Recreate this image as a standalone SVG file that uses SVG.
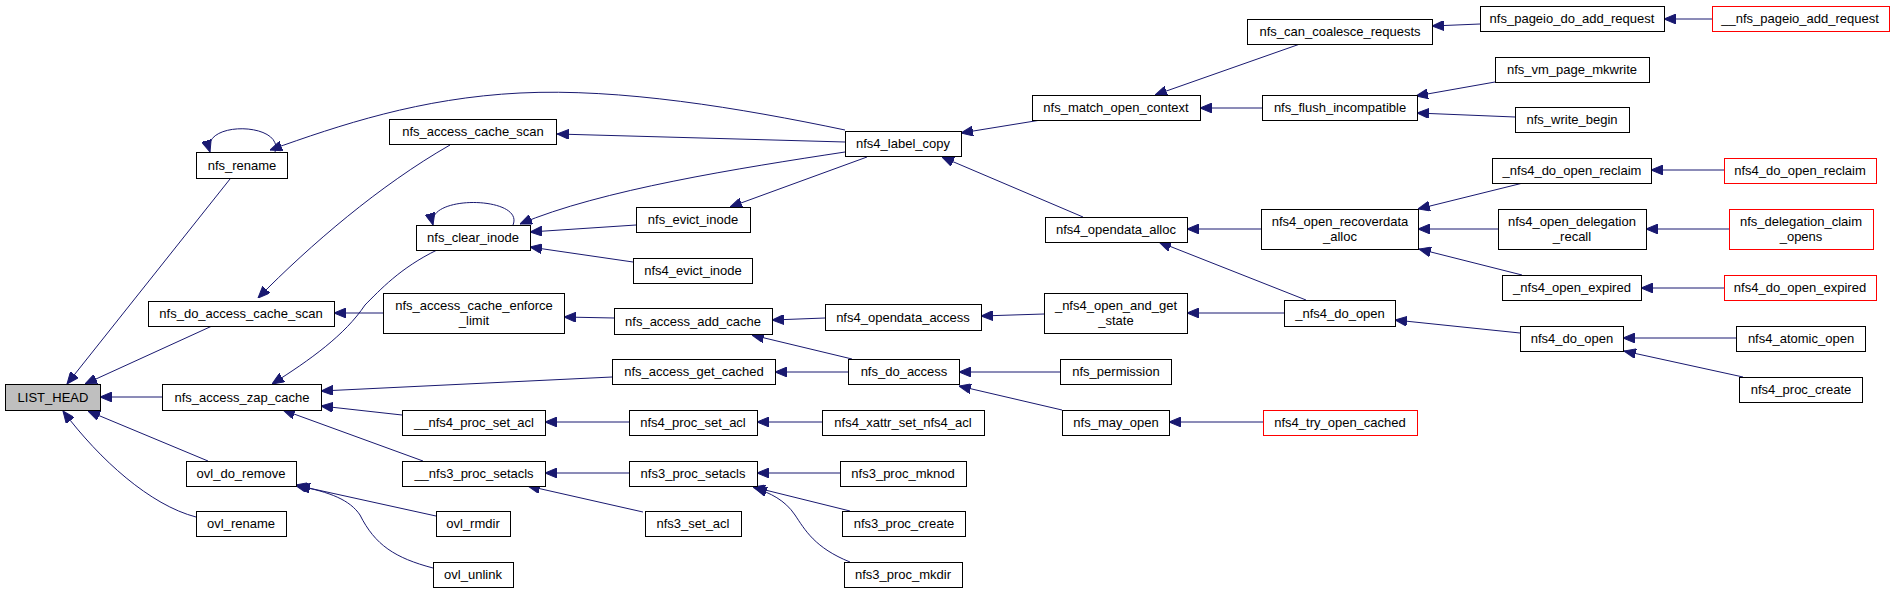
<svg xmlns="http://www.w3.org/2000/svg" width="1895" height="593" viewBox="0 0 1895 593">
<style>
.n rect{fill:#fff;stroke:#000;stroke-width:1}
.n.root rect{fill:#bfbfbf}
.n.red rect{stroke:#ff0000}
.n text{font-family:"Liberation Sans",Arial,sans-serif;font-size:13px;fill:#000;text-anchor:middle}
#edges path{fill:none;stroke:#191970;stroke-width:1;marker-end:url(#ah)}
</style>
<defs>
<marker id="ah" viewBox="0 0 12 10" refX="12" refY="5" markerWidth="12" markerHeight="10" markerUnits="userSpaceOnUse" orient="auto">
<path d="M0,0 L12,5 L0,10 z" fill="#191970" stroke="#191970" stroke-width="1"/>
</marker>
</defs>
<rect width="1895" height="593" fill="#fff"/>
<g id="edges">
<path d="M230,179 L67,384"/>
<path d="M212,326 L85,384"/>
<path d="M162,397 L100,397"/>
<path d="M208,461 L88,411"/>
<path d="M196,517 C150,505 100,460 63,411"/>
<path d="M275,152 C285,122 200,120 210,152"/>
<path d="M845,130 C740,108 620,88 520,93 C420,98 340,125 270,150"/>
<path d="M845,142 L557,134"/>
<path d="M845,152 C740,168 600,190 520,224"/>
<path d="M867,157 L730,207"/>
<path d="M513,225 C525,196 425,194 433,225"/>
<path d="M636,225 L530,232"/>
<path d="M633,262 L530,247"/>
<path d="M450,145 C380,185 310,245 258,298"/>
<path d="M437,250 C400,268 380,290 365,305 C345,335 310,360 272,384"/>
<path d="M383,313 L334,313"/>
<path d="M614,318 L564,317"/>
<path d="M612,377 L321,391"/>
<path d="M402,415 L321,406"/>
<path d="M423,461 L283,410"/>
<path d="M629,422 L545,422"/>
<path d="M629,473 L545,473"/>
<path d="M643,512 L528,486"/>
<path d="M436,516 L295,485"/>
<path d="M433,568 C395,558 375,545 360,515 C350,500 330,492 298,486"/>
<path d="M825,318 L772,320"/>
<path d="M852,359 L752,335"/>
<path d="M848,372 L775,372"/>
<path d="M822,422 L757,422"/>
<path d="M840,473 L757,473"/>
<path d="M850,511 L753,487"/>
<path d="M850,562 C815,548 805,530 795,515 C785,500 770,493 755,488"/>
<path d="M1041,120 L961,133"/>
<path d="M1083,217 L942,157"/>
<path d="M1300,44 L1155,95"/>
<path d="M1262,108 L1200,108"/>
<path d="M1480,24 L1432,26"/>
<path d="M1712,19 L1664,19"/>
<path d="M1495,82 L1416,96"/>
<path d="M1515,117 L1417,113"/>
<path d="M1261,229 L1187,229"/>
<path d="M1306,300 L1159,242"/>
<path d="M1044,314 L981,316"/>
<path d="M1284,313 L1187,313"/>
<path d="M1060,372 L959,372"/>
<path d="M1062,410 L959,386"/>
<path d="M1263,422 L1169,422"/>
<path d="M1523,183 L1418,209"/>
<path d="M1498,229 L1418,229"/>
<path d="M1522,275 L1419,249"/>
<path d="M1724,170 L1651,170"/>
<path d="M1729,229 L1646,229"/>
<path d="M1724,288 L1641,288"/>
<path d="M1520,333 L1395,320"/>
<path d="M1736,338 L1623,338"/>
<path d="M1743,377 L1624,351"/>
</g>
<g id="LIST_HEAD" class="n root"><rect x="5.5" y="384.5" width="95" height="26"/><text x="53" y="402">LIST_HEAD</text></g>
<g id="nfs_rename" class="n"><rect x="196.5" y="152.5" width="91" height="26"/><text x="242" y="170">nfs_rename</text></g>
<g id="nfs_do_access_cache_scan" class="n"><rect x="148.5" y="301.5" width="186" height="25"/><text x="241" y="318">nfs_do_access_cache_scan</text></g>
<g id="nfs_access_zap_cache" class="n"><rect x="162.5" y="384.5" width="159" height="26"/><text x="242" y="402">nfs_access_zap_cache</text></g>
<g id="ovl_do_remove" class="n"><rect x="186.5" y="461.5" width="110" height="25"/><text x="241" y="478">ovl_do_remove</text></g>
<g id="ovl_rename" class="n"><rect x="196.5" y="511.5" width="90" height="25"/><text x="241" y="528">ovl_rename</text></g>
<g id="nfs_access_cache_scan" class="n"><rect x="389.5" y="119.5" width="167" height="25"/><text x="473" y="136">nfs_access_cache_scan</text></g>
<g id="nfs_clear_inode" class="n"><rect x="416.5" y="225.5" width="114" height="25"/><text x="473" y="242">nfs_clear_inode</text></g>
<g id="nfs_access_cache_enforce_limit" class="n"><rect x="383.5" y="293.5" width="181" height="40"/><text x="474" y="310">nfs_access_cache_enforce</text><text x="474" y="325">_limit</text></g>
<g id="__nfs4_proc_set_acl" class="n"><rect x="402.5" y="410.5" width="143" height="25"/><text x="474" y="427">__nfs4_proc_set_acl</text></g>
<g id="__nfs3_proc_setacls" class="n"><rect x="402.5" y="461.5" width="143" height="25"/><text x="474" y="478">__nfs3_proc_setacls</text></g>
<g id="ovl_rmdir" class="n"><rect x="436.5" y="511.5" width="74" height="25"/><text x="473" y="528">ovl_rmdir</text></g>
<g id="ovl_unlink" class="n"><rect x="433.5" y="562.5" width="80" height="25"/><text x="473" y="579">ovl_unlink</text></g>
<g id="nfs4_label_copy" class="n"><rect x="845.5" y="131.5" width="116" height="25"/><text x="903" y="148">nfs4_label_copy</text></g>
<g id="nfs_evict_inode" class="n"><rect x="636.5" y="207.5" width="114" height="25"/><text x="693" y="224">nfs_evict_inode</text></g>
<g id="nfs4_evict_inode" class="n"><rect x="633.5" y="258.5" width="119" height="25"/><text x="693" y="275">nfs4_evict_inode</text></g>
<g id="nfs_access_add_cache" class="n"><rect x="614.5" y="308.5" width="158" height="26"/><text x="693" y="326">nfs_access_add_cache</text></g>
<g id="nfs_access_get_cached" class="n"><rect x="612.5" y="359.5" width="163" height="25"/><text x="694" y="376">nfs_access_get_cached</text></g>
<g id="nfs4_proc_set_acl" class="n"><rect x="629.5" y="410.5" width="128" height="25"/><text x="693" y="427">nfs4_proc_set_acl</text></g>
<g id="nfs3_proc_setacls" class="n"><rect x="629.5" y="461.5" width="128" height="25"/><text x="693" y="478">nfs3_proc_setacls</text></g>
<g id="nfs3_set_acl" class="n"><rect x="645.5" y="511.5" width="96" height="25"/><text x="693" y="528">nfs3_set_acl</text></g>
<g id="nfs_match_open_context" class="n"><rect x="1032.5" y="95.5" width="168" height="25"/><text x="1116" y="112">nfs_match_open_context</text></g>
<g id="nfs4_opendata_alloc" class="n"><rect x="1045.5" y="217.5" width="142" height="25"/><text x="1116" y="234">nfs4_opendata_alloc</text></g>
<g id="nfs4_opendata_access" class="n"><rect x="825.5" y="304.5" width="156" height="26"/><text x="903" y="322">nfs4_opendata_access</text></g>
<g id="nfs_do_access" class="n"><rect x="848.5" y="359.5" width="111" height="25"/><text x="904" y="376">nfs_do_access</text></g>
<g id="nfs4_xattr_set_nfs4_acl" class="n"><rect x="822.5" y="410.5" width="162" height="25"/><text x="903" y="427">nfs4_xattr_set_nfs4_acl</text></g>
<g id="nfs3_proc_mknod" class="n"><rect x="840.5" y="461.5" width="126" height="25"/><text x="903" y="478">nfs3_proc_mknod</text></g>
<g id="nfs3_proc_create" class="n"><rect x="842.5" y="511.5" width="123" height="25"/><text x="904" y="528">nfs3_proc_create</text></g>
<g id="nfs3_proc_mkdir" class="n"><rect x="844.5" y="562.5" width="118" height="25"/><text x="903" y="579">nfs3_proc_mkdir</text></g>
<g id="_nfs4_open_and_get_state" class="n"><rect x="1044.5" y="293.5" width="143" height="40"/><text x="1116" y="310">_nfs4_open_and_get</text><text x="1116" y="325">_state</text></g>
<g id="nfs_permission" class="n"><rect x="1060.5" y="359.5" width="111" height="25"/><text x="1116" y="376">nfs_permission</text></g>
<g id="nfs_may_open" class="n"><rect x="1062.5" y="410.5" width="107" height="25"/><text x="1116" y="427">nfs_may_open</text></g>
<g id="nfs_can_coalesce_requests" class="n"><rect x="1247.5" y="19.5" width="185" height="25"/><text x="1340" y="36">nfs_can_coalesce_requests</text></g>
<g id="nfs_flush_incompatible" class="n"><rect x="1262.5" y="95.5" width="155" height="25"/><text x="1340" y="112">nfs_flush_incompatible</text></g>
<g id="nfs_pageio_do_add_request" class="n"><rect x="1480.5" y="6.5" width="184" height="25"/><text x="1572" y="23">nfs_pageio_do_add_request</text></g>
<g id="__nfs_pageio_add_request" class="n red"><rect x="1712.5" y="6.5" width="177" height="25"/><text x="1800" y="23">__nfs_pageio_add_request</text></g>
<g id="nfs_vm_page_mkwrite" class="n"><rect x="1495.5" y="57.5" width="154" height="25"/><text x="1572" y="74">nfs_vm_page_mkwrite</text></g>
<g id="nfs_write_begin" class="n"><rect x="1515.5" y="107.5" width="114" height="25"/><text x="1572" y="124">nfs_write_begin</text></g>
<g id="nfs4_open_recoverdata_alloc" class="n"><rect x="1261.5" y="209.5" width="157" height="40"/><text x="1340" y="226">nfs4_open_recoverdata</text><text x="1340" y="241">_alloc</text></g>
<g id="_nfs4_do_open" class="n"><rect x="1284.5" y="300.5" width="111" height="26"/><text x="1340" y="318">_nfs4_do_open</text></g>
<g id="nfs4_try_open_cached" class="n red"><rect x="1263.5" y="410.5" width="154" height="25"/><text x="1340" y="427">nfs4_try_open_cached</text></g>
<g id="_nfs4_do_open_reclaim" class="n"><rect x="1492.5" y="158.5" width="159" height="25"/><text x="1572" y="175">_nfs4_do_open_reclaim</text></g>
<g id="nfs4_do_open_reclaim" class="n red"><rect x="1724.5" y="158.5" width="152" height="25"/><text x="1800" y="175">nfs4_do_open_reclaim</text></g>
<g id="nfs4_open_delegation_recall" class="n"><rect x="1498.5" y="209.5" width="148" height="40"/><text x="1572" y="226">nfs4_open_delegation</text><text x="1572" y="241">_recall</text></g>
<g id="nfs_delegation_claim_opens" class="n red"><rect x="1729.5" y="209.5" width="144" height="40"/><text x="1801" y="226">nfs_delegation_claim</text><text x="1801" y="241">_opens</text></g>
<g id="_nfs4_open_expired" class="n"><rect x="1502.5" y="275.5" width="139" height="25"/><text x="1572" y="292">_nfs4_open_expired</text></g>
<g id="nfs4_do_open_expired" class="n red"><rect x="1724.5" y="275.5" width="152" height="25"/><text x="1800" y="292">nfs4_do_open_expired</text></g>
<g id="nfs4_do_open" class="n"><rect x="1520.5" y="326.5" width="103" height="25"/><text x="1572" y="343">nfs4_do_open</text></g>
<g id="nfs4_atomic_open" class="n"><rect x="1736.5" y="326.5" width="129" height="25"/><text x="1801" y="343">nfs4_atomic_open</text></g>
<g id="nfs4_proc_create" class="n"><rect x="1739.5" y="377.5" width="123" height="25"/><text x="1801" y="394">nfs4_proc_create</text></g>
</svg>
